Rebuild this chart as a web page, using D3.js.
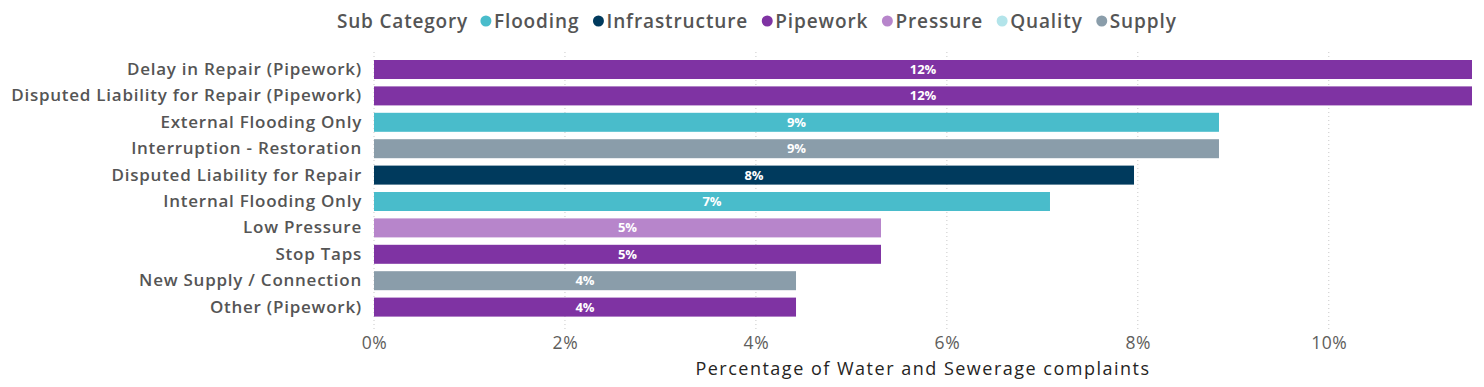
<!DOCTYPE html>
<html><head><meta charset="utf-8">
<script src="https://cdn.jsdelivr.net/npm/d3@7"></script>
<style>
html,body{margin:0;padding:0;background:#fff;}
svg{display:block;font-family:"Open Sans","Noto Sans",sans-serif;}
</style></head>
<body><svg id="chart" width="1484" height="387"></svg>
<script>
const categories = ["Delay in Repair (Pipework)","Disputed Liability for Repair (Pipework)","External Flooding Only","Interruption - Restoration","Disputed Liability for Repair","Internal Flooding Only","Low Pressure","Stop Taps","New Supply / Connection","Other (Pipework)"];
const subCategories = ["Pipework","Pipework","Flooding","Supply","Infrastructure","Flooding","Pressure","Pipework","Supply","Pipework"];
const values = [0.1150,0.1150,0.0885,0.0885,0.0796,0.0708,0.0531,0.0531,0.0442,0.0442];
const legendNames = ["Flooding","Infrastructure","Pipework","Pressure","Quality","Supply"];
const legendColors = ["#49BCCB","#003A5D","#7F33A3","#B785CB","#B3E4EA","#8A9DAA"];
const xTicks = [0,0.02,0.04,0.06,0.08,0.10];

const svg = d3.select("#chart");
const x = d3.scaleLinear().domain([0,0.115]).range([374,1472]);
const y = d3.scaleBand().domain(categories).range([60,316.6]).paddingInner(0.28).paddingOuter(0);
const color = d3.scaleOrdinal().domain(legendNames).range(legendColors);

// gridlines
svg.append("g").selectAll("line").data(xTicks).join("line")
  .attr("x1",d=>x(d)).attr("x2",d=>x(d)).attr("y1",52).attr("y2",332)
  .attr("stroke","#c8c8c8").attr("stroke-width",1).attr("stroke-dasharray","1,3");

// x axis
const xAxis = d3.axisBottom(x).tickValues(xTicks).tickFormat(d3.format(".0%")).tickSize(0).tickPadding(0);
const gx = svg.append("g").attr("transform","translate(0,337)").call(xAxis);
gx.select(".domain").remove();
gx.selectAll("text").attr("font-size",17.5).attr("fill","#605E5C").attr("letter-spacing",0.6).attr("font-family","'Open Sans',sans-serif");

svg.append("text").attr("x",923).attr("y",375).attr("text-anchor","middle")
  .attr("font-size",18).attr("letter-spacing",1.5).attr("fill","#252423").text("Percentage of Water and Sewerage complaints");

// y axis
const yAxis = d3.axisLeft(y).tickSize(0).tickPadding(0);
const gy = svg.append("g").attr("transform","translate(362,0)").call(yAxis);
gy.select(".domain").remove();
gy.selectAll("text").attr("font-size",17).attr("font-weight",600).attr("letter-spacing",0.75).attr("fill","#555").attr("font-family","'Open Sans',sans-serif");

// bars
const data = categories.map((c,i)=>({c, s:subCategories[i], v:values[i]}));
svg.append("g").selectAll("rect").data(data).join("rect")
  .attr("x",x(0)).attr("y",d=>y(d.c)).attr("width",d=>x(d.v)-x(0)).attr("height",y.bandwidth())
  .attr("fill",d=>color(d.s));
svg.append("g").selectAll("text").data(data).join("text")
  .attr("x",d=>(x(0)+x(d.v))/2).attr("y",d=>y(d.c)+y.bandwidth()/2).attr("dy","0.35em")
  .attr("text-anchor","middle").attr("font-size",13).attr("font-weight",700).attr("fill","#fff")
  .text(d=>d3.format(".0%")(d.v));

// legend
const lg = svg.append("g").attr("transform","translate(0,21)");
let lx = 337;
const title = lg.append("text").attr("x",lx).attr("y",0).attr("dy","0.35em")
  .attr("font-size",19).attr("font-weight",600).attr("letter-spacing",0.8).attr("fill","#555").text("Sub Category");
lx += title.node().getComputedTextLength() + 18;
legendNames.forEach((n,i)=>{
  lg.append("circle").attr("cx",lx).attr("cy",0).attr("r",5.5).attr("fill",legendColors[i]);
  const t = lg.append("text").attr("x",lx+8).attr("y",0).attr("dy","0.35em")
    .attr("font-size",19).attr("font-weight",600).attr("letter-spacing",0.9).attr("fill","#555").text(n);
  lx += 8 + t.node().getComputedTextLength() + 19;
});
</script></body></html>
